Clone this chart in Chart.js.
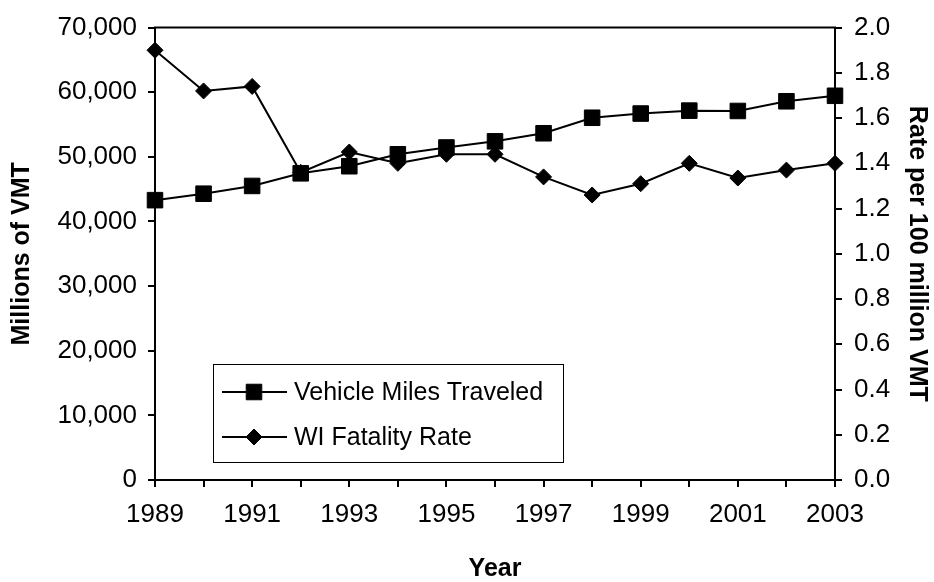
<!DOCTYPE html>
<html><head><meta charset="utf-8">
<script src="https://cdn.jsdelivr.net/npm/chart.js@4.4.1/dist/chart.umd.min.js"></script>
<style>html,body{margin:0;padding:0;background:#fff}#wrap{width:934px;height:582px}</style>
</head><body><div id="wrap"><canvas id="c" width="934" height="582"></canvas></div>
<script>
const years = ['1989','1990','1991','1992','1993','1994','1995','1996','1997','1998','1999','2000','2001','2002','2003'];
const vmt = [43300,44300,45500,47450,48550,50400,51450,52400,53650,56050,56700,57150,57100,58600,59450];
const fatalityRate = [1.90,1.72,1.74,1.36,1.45,1.40,1.44,1.44,1.34,1.26,1.31,1.40,1.335,1.37,1.40];
const seriesNames = ['Vehicle Miles Traveled','WI Fatality Rate'];
const leftTitle = 'Millions of VMT';
const rightTitle = 'Rate per 100 million VMT';
const xTitle = 'Year';

const FONT = "'Liberation Sans', Arial, sans-serif";

const framePlugin = {
  id: 'frame',
  afterDraw(chart) {
    const {ctx, chartArea: a} = chart;
    ctx.save();
    ctx.strokeStyle = '#000';
    ctx.lineWidth = 2;
    ctx.beginPath();
    ctx.moveTo(a.left - 1, a.top);
    ctx.lineTo(a.right + 1, a.top);
    ctx.stroke();
    // legend
    const bx = 213, by = 364, bw = 350, bh = 98;
    ctx.fillStyle = '#fff';
    ctx.fillRect(bx, by, bw, bh);
    ctx.lineWidth = 1;
    ctx.strokeRect(bx + 0.5, by + 0.5, bw, bh);
    const rows = [{y: 392, ds: chart.data.datasets[0]}, {y: 437, ds: chart.data.datasets[1]}];
    rows.forEach(r => {
      ctx.lineWidth = 2;
      ctx.strokeStyle = '#000';
      ctx.beginPath();
      ctx.moveTo(222, r.y);
      ctx.lineTo(287, r.y);
      ctx.stroke();
      ctx.fillStyle = '#000';
      ctx.lineWidth = 1;
      Chart.helpers.drawPoint(ctx, {pointStyle: r.ds.pointStyle, radius: r.ds.pointRadius, rotation: 0, borderWidth: 1}, 254, r.y);
      ctx.fillStyle = '#000';
      ctx.font = '25px ' + FONT;
      ctx.textBaseline = 'middle';
      ctx.textAlign = 'left';
      ctx.fillText(r.ds.label, 294, r.y + 1);
    });
    ctx.restore();
  }
};

new Chart(document.getElementById('c'), {
  type: 'line',
  data: {
    labels: years,
    datasets: [
      {label: seriesNames[0], data: vmt, yAxisID: 'y', borderColor: '#000', backgroundColor: '#000', borderWidth: 2,
       pointStyle: 'rect', pointRadius: 11, pointBorderWidth: 1, pointBackgroundColor: '#000', pointBorderColor: '#000', tension: 0},
      {label: seriesNames[1], data: fatalityRate, yAxisID: 'y2', borderColor: '#000', backgroundColor: '#000', borderWidth: 2,
       pointStyle: 'rectRot', pointRadius: 8, pointBorderWidth: 1, pointBackgroundColor: '#000', pointBorderColor: '#000', tension: 0}
    ]
  },
  options: {
    responsive: false,
    animation: false,
    devicePixelRatio: 1,
    layout: {padding: {top: 22, left: 0, right: 0, bottom: 0}},
    plugins: {legend: {display: false}, tooltip: {enabled: false}},
    scales: {
      x: {
        offset: false,
        afterFit(s) { s.height = 102; },
        grid: {drawOnChartArea: false, color: '#000', lineWidth: 2, tickLength: 7},
        border: {display: true, color: '#000', width: 2},
        ticks: {autoSkip: false, maxRotation: 0, color: '#000', padding: 12, font: {family: FONT, size: 26},
          callback(v, i) { return i % 2 === 0 ? this.getLabelForValue(v) : ''; }},
        title: {display: true, text: xTitle, color: '#000', font: {family: FONT, size: 25, weight: 'bold', lineHeight: 1}, padding: {top: 0, bottom: 0}}
      },
      y: {
        position: 'left', min: 0, max: 70000,
        afterFit(s) { s.width = 155; },
        grid: {drawOnChartArea: false, color: '#000', lineWidth: 2, tickLength: 7},
        border: {display: true, color: '#000', width: 2},
        ticks: {stepSize: 10000, color: '#000', padding: 11, font: {family: FONT, size: 26},
          callback: v => v.toLocaleString('en-US')},
        title: {display: true, text: leftTitle, color: '#000', font: {family: FONT, size: 25, weight: 'bold'}, padding: {top: 7, bottom: 0}}
      },
      y2: {
        position: 'right', min: 0, max: 2.0,
        afterFit(s) { s.width = 99; },
        grid: {drawOnChartArea: false, color: '#000', lineWidth: 2, tickLength: 7},
        border: {display: true, color: '#000', width: 2},
        ticks: {stepSize: 0.2, color: '#000', padding: 12, font: {family: FONT, size: 26},
          callback: v => Number(v).toFixed(1)},
        title: {display: true, text: rightTitle, color: '#000', font: {family: FONT, size: 25, weight: 'bold'}, padding: {top: 2, bottom: 0}}
      }
    }
  },
  plugins: [framePlugin]
});
</script>
</body></html>
